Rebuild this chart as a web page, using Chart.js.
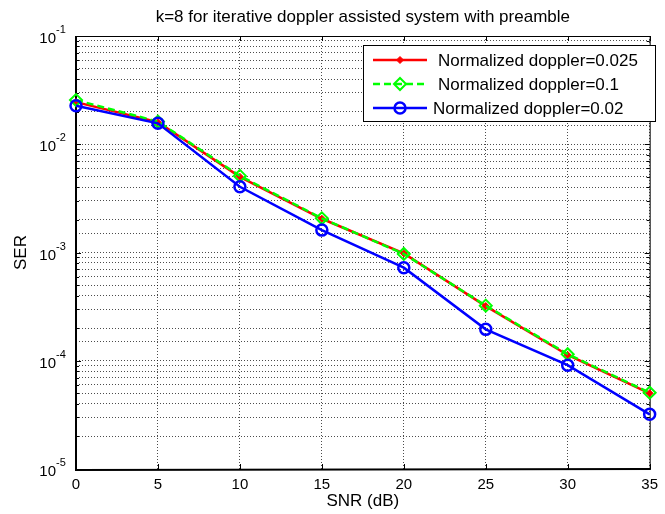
<!DOCTYPE html>
<html>
<head>
<meta charset="utf-8">
<script src="https://cdn.jsdelivr.net/npm/chart.js@4"></script>
<style>
html, body { margin: 0; padding: 0; background: #fff; }
#wrap { width: 665px; height: 514px; }
</style>
</head>
<body>
<div id="wrap"><canvas id="myChart" width="665" height="514"></canvas></div>
<script>
// values
const snr = [0, 5, 10, 15, 20, 25, 30, 35];
const ser025 = [0.0245, 0.0160, 0.0050, 0.00205, 0.00098, 0.00032, 0.000113, 0.000050];
const ser01 = [0.0256, 0.0162, 0.0051, 0.00207, 0.00097, 0.000323, 0.000115, 0.0000507];
const ser002 = [0.0227, 0.0156, 0.00405, 0.00161, 0.000724, 0.000195, 0.000091, 0.000032];
const xTicks = [0, 5, 10, 15, 20, 25, 30, 35];
const yDecades = [-1, -2, -3, -4, -5];
const seriesLabels = ['Normalized doppler=0.025', 'Normalized doppler=0.1', 'Normalized doppler=0.02'];
const titleText = 'k=8 for iterative doppler assisted system with preamble';

const FONT = '"Liberation Sans", Arial, sans-serif';
const pts = ys => snr.map((x, i) => ({ x: x, y: ys[i] }));

const matlabFrame = {
  id: 'matlabFrame',
  beforeDatasetsDraw(chart) {
    const { ctx, chartArea: a, scales } = chart;
    ctx.save();
    ctx.strokeStyle = '#000';
    ctx.lineWidth = 1;
    // inward ticks
    ctx.beginPath();
    xTicks.forEach(v => {
      const px = Math.round(scales.x.getPixelForValue(v)) + 0.5;
      ctx.moveTo(px, a.bottom); ctx.lineTo(px, a.bottom - 5);
      ctx.moveTo(px, a.top); ctx.lineTo(px, a.top + 5);
    });
    for (let d = -5; d <= -1; d++) {
      for (let m = 1; m <= 9; m++) {
        const v = m * Math.pow(10, d);
        if (v > 0.1 + 1e-12) break;
        const py = Math.round(scales.y.getPixelForValue(v)) + 0.5;
        const len = m === 1 ? 5 : 3;
        ctx.moveTo(a.left, py); ctx.lineTo(a.left + len, py);
        ctx.moveTo(a.right, py); ctx.lineTo(a.right - len, py);
      }
    }
    ctx.stroke();
    // box
    ctx.strokeRect(a.left + 0.5, a.top + 0.5, a.right - a.left, a.bottom - a.top);
    ctx.lineWidth = 2;
    ctx.beginPath();
    ctx.moveTo(a.left, a.top); ctx.lineTo(a.left, a.bottom + 1); ctx.lineTo(a.right + 1, a.bottom);
    ctx.stroke();
    ctx.restore();
  },
  afterDraw(chart) {
    const { ctx, chartArea: a, scales } = chart;
    const cx = (a.left + a.right) / 2;
    ctx.save();
    ctx.fillStyle = '#000';
    // title
    ctx.font = '17px ' + FONT;
    ctx.textAlign = 'center';
    ctx.textBaseline = 'middle';
    ctx.fillText(titleText, cx, 17);
    // axis titles
    ctx.fillText('SNR (dB)', cx, 501);
    ctx.save();
    ctx.translate(21, (a.top + a.bottom) / 2);
    ctx.rotate(-Math.PI / 2);
    ctx.fillText('SER', 0, 0);
    ctx.restore();
    // y tick labels 10^n
    yDecades.forEach(d => {
      const py = scales.y.getPixelForValue(Math.pow(10, d));
      ctx.font = '15px ' + FONT;
      ctx.textAlign = 'right';
      ctx.textBaseline = 'middle';
      ctx.fillText('10', 56, py + 3);
      ctx.font = '11px ' + FONT;
      ctx.textAlign = 'left';
      ctx.fillText(String(d), 56, py - 6);
    });
    // legend inside the axes
    const lx = 363, ly = 45, lw = 292, lh = 76;
    ctx.fillStyle = '#fff';
    ctx.fillRect(lx, ly, lw, lh);
    ctx.strokeStyle = '#000';
    ctx.lineWidth = 1;
    ctx.strokeRect(lx + 0.5, ly + 0.5, lw, lh);
    const rows = [60, 84, 108];
    const textX = [438, 438, 433];
    chart.data.datasets.forEach((ds, i) => {
      const y = rows[i];
      ctx.save();
      ctx.strokeStyle = ds.borderColor;
      ctx.lineWidth = ds.borderWidth;
      ctx.setLineDash(ds.borderDash || []);
      ctx.beginPath();
      ctx.moveTo(373, y); ctx.lineTo(427, y);
      ctx.stroke();
      ctx.setLineDash([]);
      ctx.fillStyle = ds.pointBackgroundColor;
      ctx.strokeStyle = ds.pointBorderColor;
      ctx.lineWidth = ds.pointBorderWidth;
      Chart.helpers.drawPoint(ctx, {
        pointStyle: ds.pointStyle, radius: ds.pointRadius, rotation: 0, borderWidth: ds.pointBorderWidth
      }, 400, y);
      ctx.restore();
      ctx.fillStyle = '#000';
      ctx.font = '17px ' + FONT;
      ctx.textAlign = 'left';
      ctx.textBaseline = 'middle';
      ctx.fillText(ds.label, textX[i], y + 1);
    });
    ctx.restore();
  }
};

new Chart(document.getElementById('myChart'), {
  type: 'line',
  data: {
    datasets: [
      {
        label: seriesLabels[0],
        data: pts(ser025),
        borderColor: '#ff0000',
        borderWidth: 2.5,
        pointStyle: 'rectRot',
        pointRadius: 3.5,
        pointBackgroundColor: '#ff0000',
        pointBorderColor: '#ff0000',
        pointBorderWidth: 1,
        order: 2
      },
      {
        label: seriesLabels[1],
        data: pts(ser01),
        borderColor: '#00ff00',
        borderWidth: 2.5,
        borderDash: [7, 4],
        pointStyle: 'rectRot',
        pointRadius: 6,
        pointBackgroundColor: 'rgba(0,0,0,0)',
        pointBorderColor: '#00ff00',
        pointBorderWidth: 2,
        order: 1
      },
      {
        label: seriesLabels[2],
        data: pts(ser002),
        borderColor: '#0000ff',
        borderWidth: 2.5,
        pointStyle: 'circle',
        pointRadius: 5.5,
        pointBackgroundColor: 'rgba(0,0,0,0)',
        pointBorderColor: '#0000ff',
        pointBorderWidth: 2.5,
        order: 0
      }
    ]
  },
  options: {
    responsive: false,
    devicePixelRatio: 1,
    animation: false,
    clip: false,
    layout: { padding: { top: 36, left: 0, right: 9, bottom: 0 } },
    plugins: { legend: { display: false }, title: { display: false }, tooltip: { enabled: false } },
    elements: { line: { tension: 0 } },
    scales: {
      x: {
        type: 'linear',
        min: 0,
        max: 35,
        afterFit: s => { s.height = 45; },
        afterBuildTicks: s => { s.ticks = xTicks.map(v => ({ value: v })); },
        ticks: { color: '#000', font: { size: 15, family: FONT }, padding: 7, maxRotation: 0 },
        grid: { color: 'rgba(0,0,0,0.7)', lineWidth: 1, drawTicks: false },
        border: { display: false, dash: [1, 2] }
      },
      y: {
        type: 'logarithmic',
        min: 1e-5,
        max: 1e-1,
        afterFit: s => { s.width = 76; },
        ticks: { display: false, callback: () => '' },
        grid: { color: 'rgba(0,0,0,0.7)', lineWidth: 1, drawTicks: false },
        border: { display: false, dash: [1, 2] }
      }
    }
  },
  plugins: [matlabFrame]
});
</script>
</body>
</html>
